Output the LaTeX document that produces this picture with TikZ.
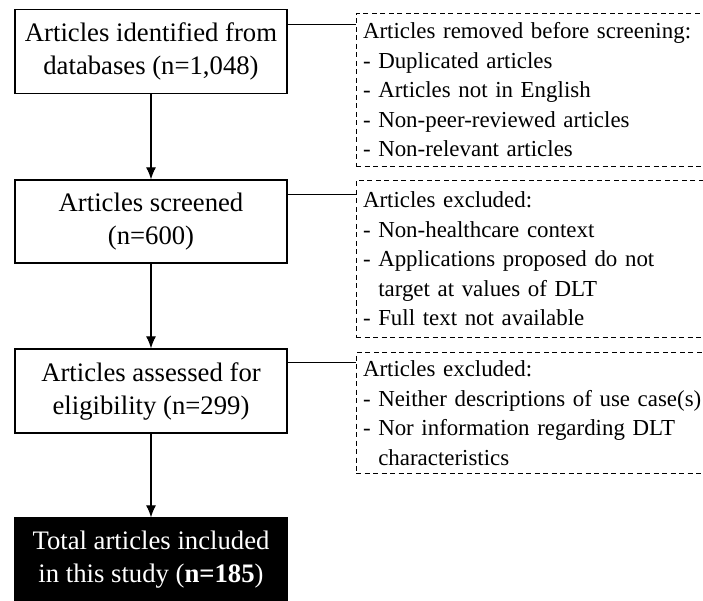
\documentclass[tikz,border=0pt]{standalone}
\usepackage{fontspec}
\setmainfont{Liberation Serif}
\usetikzlibrary{arrows.meta,calc}
\begin{document}
\begin{tikzpicture}[x=1pt,y=-1pt,
  mainbox/.style={draw=black,line width=1.3pt,minimum width=272pt,minimum height=84pt,
    align=center,inner sep=2pt,font=\fontsize{26.7}{33}\selectfont},
  notebox/.style={draw=black,line width=0.9pt,dash pattern=on 5pt off 3.5pt,
    minimum width=414pt,text width=400pt,inner xsep=6pt,align=left,
    font=\fontsize{22.9}{29.5}\selectfont},
  flow/.style={line width=1.2pt,-{Latex[length=12pt,width=10pt]}},
  link/.style={line width=1.2pt}]
\useasboundingbox (0,0) rectangle (703,601);
\clip (0,0) rectangle (703,601);
\node[mainbox] (b1) at (151,51.5) {Articles identified from\\databases (n=1,048)};
\node[mainbox,minimum height=83pt] (b2) at (151,221.5) {Articles screened\\(n=600)};
\node[mainbox] (b3) at (151,391) {Articles assessed for\\eligibility (n=299)};
\node[mainbox,fill=black,text=white] (b4) at (151,560) {Total articles included\\in this study (\textbf{n=185})};
\node[notebox,minimum height=153pt] (r1) at (563,90) {Articles removed before screening:\\- Duplicated articles\\- Articles not in English\\- Non-peer-reviewed articles\\- Non-relevant articles};
\node[notebox,minimum height=157pt] (r2) at (563,259) {Articles excluded:\\- Non-healthcare context\\- Applications proposed do not\\\hphantom{-\ }target at values of DLT\\- Full text not available};
\node[notebox,minimum height=121pt] (r3) at (563,413) {Articles excluded:\\- Neither descriptions of use case(s)\\- Nor information regarding DLT\\\hphantom{-\ }characteristics};
\draw[flow] (b1) -- (b2);
\draw[flow] (b2) -- (b3);
\draw[flow] (b3) -- (b4);
\draw[link] ([yshift=-16pt]b1.north east) -- ([yshift=-16pt]b1.north east -| r1.west);
\draw[link] ([yshift=-15pt]b2.north east) -- ([yshift=-15pt]b2.north east -| r2.west);
\draw[link] ([yshift=-14pt]b3.north east) -- ([yshift=-14pt]b3.north east -| r3.west);
\end{tikzpicture}
\end{document}
